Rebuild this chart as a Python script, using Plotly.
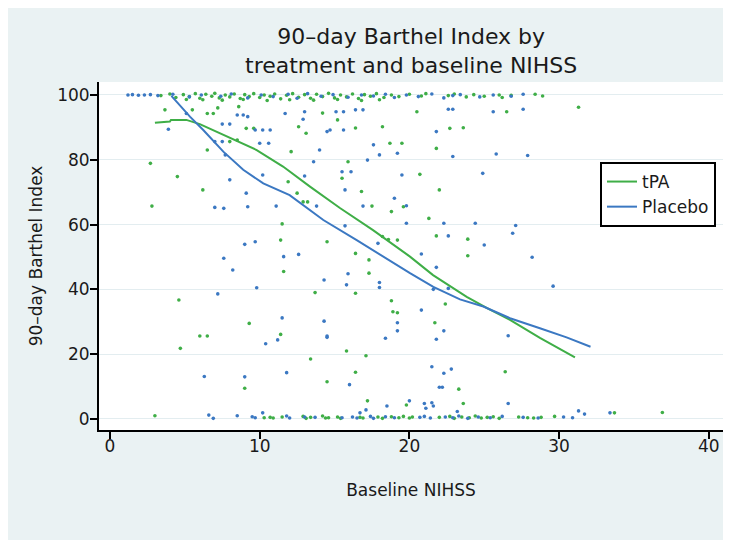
import plotly.graph_objects as go

# ---------------- data ----------------
x_ticks = [0, 10, 20, 30, 40]
y_ticks = [0, 20, 40, 60, 80, 100]

# tPA: Barthel ~100 band
tpa_top_x = [3.4, 4.0, 4.4, 4.9, 5.1, 5.3, 5.7, 6.0, 6.2, 6.4, 6.8, 7.0, 7.3, 7.5, 7.7, 8.0, 8.3, 8.7,
             8.9, 9.0, 9.3, 9.6, 10.0, 10.3, 10.5, 10.7, 11.0, 11.4, 11.8, 12.0, 12.2, 12.6, 13.0,
             13.4, 13.6, 13.8, 14.2, 14.6, 15.0, 15.2, 15.4, 15.8, 16.2, 16.6, 16.8, 17.0, 17.4,
             17.8, 18.0, 18.3, 18.8, 19.3, 20.0, 20.8, 21.1, 22.6, 23.0, 23.8, 24.3, 25.0, 26.0,
             26.2, 26.8, 28.4, 28.9]
tpa_top_y = [99.8, 100.3, 99.2, 100.1, 98.6, 99.5, 100.4, 99.0, 98.5, 100.2, 99.6, 100.5, 99.1, 98.4,
             100.0, 99.4, 100.3, 98.9, 98.6, 100.1, 99.5, 100.4, 99.2, 100.0, 98.3, 99.6, 100.3,
             98.8, 99.9, 98.5, 100.4, 99.3, 100.1, 99.0, 98.4, 100.2, 99.5, 100.5, 99.1, 98.6,
             100.0, 99.4, 100.3, 98.9, 98.3, 100.1, 99.6, 100.4, 98.5, 99.2, 100.0, 99.5, 100.2,
             99.7, 100.4, 99.8, 100.3, 99.4, 100.1, 99.6, 100.0, 99.2, 99.9, 100.2, 99.7]

# tPA: Barthel ~0 band
tpa_bottom_x = [3.0, 10.3, 10.7, 10.9, 11.5, 12.9, 13.1, 13.4, 14.2, 14.4, 14.6, 15.2, 15.4, 16.7,
                16.9, 17.9, 18.2, 18.8, 19.3, 19.6, 20.0, 20.2, 22.0, 22.7, 23.0, 23.5, 24.0, 24.4,
                24.8, 25.2, 25.6, 26.0, 27.3, 27.9, 28.3, 28.8, 29.7, 33.7, 36.9]
tpa_bottom_y = [1.0, 0.4, 0.5, 0.3, 0.6, 0.8, 0.2, 0.5, 0.9, 0.3, 0.4, 0.6, 0.2, 0.5, 0.3, 0.6, 0.2,
                0.7, 0.4, 0.8, 0.3, 0.6, 0.5, 0.8, 0.2, 0.6, 0.4, 0.9, 0.3, 0.5, 0.7, 0.2, 0.6, 0.4,
                0.3, 0.5, 0.8, 1.9, 2.0]

# tPA: in-between values
tpa_mid_x = [3.67, 5.5, 6.5, 6.9, 7.2, 8.6, 14.2, 15.2, 9.1, 9.6, 12.6, 13.1, 16.4, 18.2, 8.0, 8.5,
             12.1, 18.7, 19.5, 6.5, 2.7, 15.9, 4.5, 15.5, 11.9, 6.2, 16.8, 12.5, 12.9, 13.2, 2.8,
             17.5, 18.8, 19.6, 11.5, 11.4, 14.5, 18.2, 18.6, 19.2, 16.4, 11.6, 17.3, 17.3, 4.6,
             13.7, 16.4, 18.8, 18.9, 19.2, 9.3, 11.4, 6.5, 6.0, 4.7, 15.8, 17.1, 13.4, 16.4, 9.0,
             14.5, 17.2, 19.8, 31.3, 20.5, 26.5, 22.7, 23.6, 21.8, 20.7, 22.0, 21.3, 21.8, 23.9,
             23.9, 22.4, 21.7, 26.4, 23.3, 23.6]
tpa_mid_y = [95.4, 95.4, 94.3, 94.3, 96.0, 96.4, 94.4, 92.3, 89.7, 89.7, 90.2, 88.2, 89.8, 90.2, 85.6,
             86.1, 82.5, 85.1, 85.1, 83.0, 78.9, 79.4, 74.8, 74.3, 73.2, 70.7, 70.2, 69.7, 67.0,
             67.0, 65.7, 65.7, 64.0, 65.5, 60.2, 55.2, 54.7, 56.3, 55.4, 55.2, 51.1, 45.5, 49.1,
             45.0, 36.7, 39.0, 38.8, 36.5, 33.1, 32.8, 29.5, 26.1, 25.6, 25.6, 21.8, 21.0, 19.5,
             18.5, 14.4, 9.5, 11.5, 5.6, 4.3, 96.2, 94.8, 94.8, 89.7, 89.9, 83.5, 75.5, 70.7,
             61.9, 56.5, 55.5, 50.4, 35.5, 29.7, 14.6, 9.2, 4.8]

# Placebo: Barthel ~100 band
placebo_top_x = [1.2, 1.5, 1.9, 2.3, 2.7, 3.2, 4.2, 5.3, 6.1, 7.4, 8.1, 9.2, 10.1, 10.9, 11.9, 12.5,
                 13.2, 14.1, 14.9, 15.9, 16.8, 17.6, 18.4, 19.0, 19.8, 20.6, 21.5, 22.3, 22.9,
                 23.4, 24.7, 25.6, 26.8, 27.6]
placebo_top_y = [100.0, 100.1, 99.9, 100.0, 100.1, 99.8, 100.2, 99.4, 100.0, 99.6, 100.3, 99.1,
                 100.0, 99.5, 100.2, 99.0, 100.4, 99.6, 100.1, 99.3, 100.0, 99.7, 100.2, 99.2,
                 100.0, 99.5, 100.3, 99.1, 99.8, 100.1, 99.4, 100.0, 99.6, 100.2]

# Placebo: Barthel ~0 band
placebo_bottom_x = [6.6, 6.9, 8.5, 9.5, 9.7, 10.2, 11.8, 12.0, 13.0, 13.7, 15.5, 16.2, 16.5, 17.4,
                    17.6, 18.4, 19.0, 20.7, 21.0, 21.4, 22.4, 22.9, 23.3, 23.9, 24.6, 25.4, 26.2,
                    27.6, 28.6, 30.3, 30.9, 31.3, 31.7, 33.4]
placebo_bottom_y = [1.2, 0.2, 1.0, 0.7, 0.4, 1.9, 0.9, 0.3, 0.6, 0.5, 0.4, 0.6, 0.3, 0.8, 0.2, 0.7,
                    0.4, 0.5, 0.8, 0.3, 0.6, 0.4, 0.9, 0.2, 0.6, 0.4, 0.8, 0.5, 0.3, 0.6, 0.4, 2.5,
                    1.5, 1.9]

# Placebo: in-between values
placebo_mid_x = [5.1, 8.5, 8.9, 9.2, 11.7, 13.0, 12.9, 15.1, 15.6, 16.4, 16.9, 3.9, 7.5, 8.0, 9.7,
                 10.2, 10.7, 14.5, 14.7, 15.6, 7.0, 7.5, 10.0, 10.6, 14.0, 17.6, 18.0, 19.2, 7.7,
                 13.6, 17.2, 8.0, 10.2, 15.5, 16.1, 19.5, 13.0, 15.7, 9.1, 19.0, 7.0, 7.6, 9.2,
                 11.1, 13.8, 16.9, 19.8, 15.7, 19.8, 9.0, 9.7, 17.9, 7.6, 11.6, 12.6, 8.2, 15.9,
                 14.3, 15.8, 18.0, 18.0, 9.8, 7.2, 11.5, 14.3, 19.2, 19.2, 11.2, 10.4, 14.5, 14.5,
                 18.4, 11.8, 6.3, 9.0, 16.0, 18.5, 17.1, 16.7,
                 22.6, 22.9, 25.6, 27.6, 21.8, 22.9, 25.8, 27.9, 24.9, 22.3, 24.4, 27.1, 26.9,
                 22.6, 25.0, 20.8, 28.2, 21.8, 21.6, 22.6, 29.6, 20.8, 22.3, 21.8, 26.6, 21.5,
                 22.8, 22.3, 22.0, 22.2, 20.0, 21.0, 21.5, 21.6, 21.1, 26.6, 23.2]
placebo_mid_y = [94.3, 93.8, 93.8, 93.3, 94.3, 94.8, 92.5, 94.8, 94.8, 95.4, 95.4, 89.4, 91.0, 91.0,
                 89.2, 89.2, 89.2, 88.7, 89.2, 89.2, 85.6, 85.6, 85.1, 85.1, 83.0, 84.6, 81.5, 82.0,
                 81.5, 79.4, 79.9, 73.8, 75.3, 76.3, 76.3, 75.3, 75.0, 70.7, 69.7, 68.1, 65.3, 65.0,
                 65.5, 65.7, 65.7, 65.7, 65.8, 59.6, 60.4, 53.9, 54.7, 54.2, 49.6, 50.1, 50.8, 46.0,
                 44.8, 42.9, 41.4, 42.1, 40.6, 40.5, 38.6, 31.2, 30.2, 29.7, 27.2, 24.4, 23.2, 25.6,
                 25.2, 24.9, 14.3, 13.1, 13.0, 10.6, 4.0, 2.8, 1.9,
                 95.6, 95.6, 94.8, 95.6, 88.7, 81.0, 81.8, 81.3, 75.8, 60.4, 60.4, 59.7, 57.3,
                 56.5, 53.7, 50.9, 49.9, 46.8, 40.0, 40.3, 41.0, 33.6, 27.2, 24.6, 25.7, 16.1,
                 15.4, 14.1, 9.8, 9.8, 5.6, 4.8, 5.0, 4.0, 3.3, 4.8, 2.3]

# smoothed (lowess) curves
tpa_curve_x = [3.0, 4.0, 4.07, 5.1, 6.0, 7.55, 9.8, 11.56, 13.36, 15.36, 17.57, 20.04, 21.58,
               23.83, 25.16, 26.72, 28.72, 31.06]
tpa_curve_y = [91.4, 91.8, 92.3, 92.3, 91.0, 87.7, 83.0, 77.9, 71.7, 65.1, 58.3, 50.1, 44.4, 37.7,
               34.3, 30.6, 25.0, 19.0]
placebo_curve_x = [4.1, 5.34, 6.23, 7.57, 8.9, 10.24, 12.0, 14.25, 16.48, 18.26, 20.04, 21.6,
                   23.38, 24.94, 26.72, 28.72, 30.5, 32.1]
placebo_curve_y = [99.7, 93.3, 89.2, 82.5, 76.9, 72.7, 69.1, 61.4, 55.2, 50.1, 45.0, 40.8, 36.9,
                   34.7, 31.1, 28.0, 25.2, 22.3]

# ---------------- styling ----------------
GREEN = "#3fae47"
BLUE = "#3b78c2"
FONT = "DejaVu Sans"
TXT = "#1a1a1a"
BG = "#eaf2f3"
GRID = "#e3edf0"

OFF = 8                      # page offset of the figure in the window
W, H = 731 - OFF, 540 - OFF  # figure size
# plot-area edges in window pixels
PL, PR, PT, PB = 99, 723, 82, 430
L, R, T, B = PL - OFF, W - (PR - OFF), PT - OFF, H - (PB - OFF)
PW = PR - PL
PH = PB - PT


def fx(px):
    return (px - PL) / PW


def fy(py):
    return (PB - py) / PH


fig = go.Figure()

marker_sets = [
    (tpa_top_x, tpa_top_y, GREEN),
    (tpa_bottom_x, tpa_bottom_y, GREEN),
    (tpa_mid_x, tpa_mid_y, GREEN),
    (placebo_top_x, placebo_top_y, BLUE),
    (placebo_bottom_x, placebo_bottom_y, BLUE),
    (placebo_mid_x, placebo_mid_y, BLUE),
]
for xs, ys, col in marker_sets:
    fig.add_trace(go.Scatter(x=xs, y=ys, mode="markers", showlegend=False,
                             marker=dict(color=col, size=3.6, symbol="circle", line=dict(width=0)),
                             hoverinfo="skip"))

fig.add_trace(go.Scatter(x=tpa_curve_x, y=tpa_curve_y, mode="lines", name="tPA",
                         line=dict(color=GREEN, width=2)))
fig.add_trace(go.Scatter(x=placebo_curve_x, y=placebo_curve_y, mode="lines", name="Placebo",
                         line=dict(color=BLUE, width=2)))

annotations = [
    dict(text="90\u2013day Barthel Index by<br>treatment and baseline NIHSS",
         xref="paper", yref="paper", x=0.5, y=fy(51.5),
         xanchor="center", yanchor="middle", showarrow=False, align="center",
         font=dict(family=FONT, size=22, color=TXT)),
]

fig.update_layout(
    width=W, height=H,
    margin=dict(l=L, r=R, t=T, b=B, pad=0, autoexpand=False),
    paper_bgcolor=BG,
    plot_bgcolor="white",
    font=dict(family=FONT, size=17, color=TXT),
    annotations=annotations,
    showlegend=True,
    legend=dict(x=fx(600), y=fy(162), xanchor="left", yanchor="top",
                bgcolor="white", bordercolor="black", borderwidth=2,
                font=dict(family=FONT, size=17, color=TXT), itemwidth=30),
    xaxis=dict(range=[-0.735, 40.95], tickvals=x_ticks, ticktext=[str(v) for v in x_ticks],
               ticks="outside", ticklen=7, tickwidth=2, tickcolor="black",
               showline=True, linecolor="black", linewidth=2, mirror=False,
               showgrid=False, zeroline=False, ticklabelstandoff=-7,
               tickfont=dict(family=FONT, size=17, color=TXT),
               title=dict(text="Baseline NIHSS", font=dict(family=FONT, size=17, color=TXT),
                          standoff=29)),
    yaxis=dict(range=[-3.4, 104.0], tickvals=y_ticks, ticktext=[str(v) for v in y_ticks],
               ticks="outside", ticklen=7, tickwidth=2, tickcolor="black",
               showline=True, linecolor="black", linewidth=2, ticklabelstandoff=-3,
               showgrid=True, gridcolor=GRID, gridwidth=1, zeroline=False,
               tickfont=dict(family=FONT, size=17, color=TXT),
               title=dict(text="90\u2013day Barthel Index", font=dict(family=FONT, size=17, color=TXT),
                          standoff=10)),
)

fig.write_html("out.html")
